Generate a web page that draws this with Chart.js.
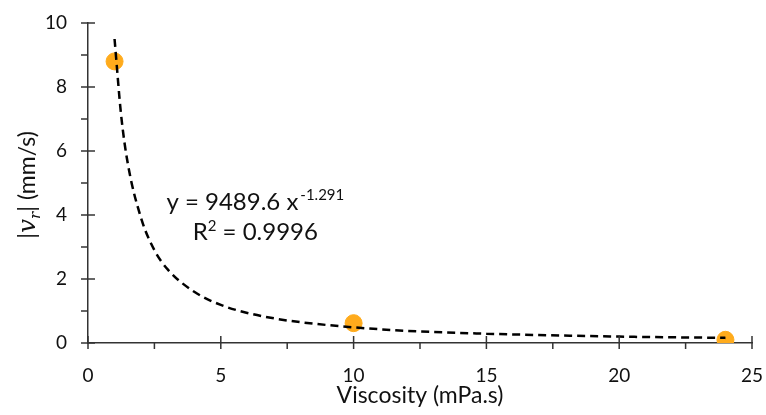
<!DOCTYPE html>
<html>
<head>
<meta charset="utf-8">
<script src="https://cdn.jsdelivr.net/npm/chart.js@4.4.1/dist/chart.umd.min.js"></script>
<style>
  body { margin: 0; background: #fff; }
</style>
</head>
<body>
<canvas id="viscChart" width="766" height="415"></canvas>
<script>
// measured points
var viscosity = [1, 10, 24];
var radialSpeed = [8.8, 0.62, 0.1];
// power-law trendline
var trendX = [1, 1.25, 1.5, 2, 2.5, 3, 4, 5, 6, 7, 8, 10, 12, 15, 20, 24];
var trendY = [9.5, 7.1, 5.6, 3.9, 2.9, 2.3, 1.6, 1.19, 0.94, 0.77, 0.65, 0.49, 0.38, 0.29, 0.2, 0.16];
var fitEquation = ['y = 9489.6 x', '-1.291'];
var fitR2 = ['R', '2', ' = 0.9996'];

var FONT = 'Lato, "Open Sans", sans-serif';
var INK = '#111';
var AXIS = '#333';

function toPoints(xs, ys) {
  return xs.map(function (v, i) { return { x: v, y: ys[i] }; });
}

// excel-like tick marks: major crossing the axis, minor outside
var axisTicks = {
  id: 'axisTicks',
  afterDraw: function (chart) {
    var ctx = chart.ctx, x = chart.scales.x, y = chart.scales.y;
    ctx.save();
    ctx.strokeStyle = AXIS;
    ctx.lineWidth = 1.5;
    x.ticks.forEach(function (t) {
      var px = x.getPixelForValue(t.value);
      var major = t.value % 5 === 0;
      ctx.beginPath();
      ctx.moveTo(px, y.bottom + 6);
      ctx.lineTo(px, major ? y.bottom - 7 : y.bottom);
      ctx.stroke();
    });
    y.ticks.forEach(function (t) {
      var py = y.getPixelForValue(t.value);
      var major = t.value % 2 === 0;
      ctx.beginPath();
      ctx.moveTo(x.left - 7, py);
      ctx.lineTo(major ? x.left + 7 : x.left, py);
      ctx.stroke();
    });
    ctx.restore();
  }
};

// y title with italic v and subscript r, plus fit equation text
var extraText = {
  id: 'extraText',
  afterDraw: function (chart) {
    var ctx = chart.ctx, x = chart.scales.x, y = chart.scales.y;
    ctx.save();
    ctx.fillStyle = INK;
    ctx.textBaseline = 'alphabetic';

    // y axis title
    var parts = [
      { t: '|', f: '23px ' + FONT, dy: 0 },
      { t: 'v', f: 'italic 25px "DejaVu Serif", serif', dy: 0 },
      { t: 'r', f: 'italic 15px "DejaVu Serif", serif', dy: 5 },
      { t: '| (mm/s)', f: '23px ' + FONT, dy: 0 }
    ];
    var total = 0;
    parts.forEach(function (p) { ctx.font = p.f; p.w = ctx.measureText(p.t).width; total += p.w; });
    ctx.translate(35, (y.top + y.bottom) / 2 + 2);
    ctx.rotate(-Math.PI / 2);
    var cx = -total / 2;
    parts.forEach(function (p) {
      ctx.font = p.f;
      ctx.fillText(p.t, cx, p.dy);
      cx += p.w;
    });
    ctx.setTransform(1, 0, 0, 1, 0, 0);

    // equation
    var ex = x.getPixelForValue(6.3);
    var ey1 = y.getPixelForValue(4.4) + 8;
    ctx.font = '24px ' + FONT;
    var w1 = ctx.measureText(fitEquation[0]).width;
    ctx.font = '15px ' + FONT;
    var w2 = ctx.measureText(fitEquation[1]).width;
    var sx = ex - (w1 + w2 + 2) / 2;
    ctx.font = '24px ' + FONT;
    ctx.fillText(fitEquation[0], sx, ey1);
    ctx.font = '15px ' + FONT;
    ctx.fillText(fitEquation[1], sx + w1 + 2, ey1 - 10);

    var ey2 = y.getPixelForValue(3.47) + 8;
    ctx.font = '24px ' + FONT;
    var a = ctx.measureText(fitR2[0]).width;
    var c = ctx.measureText(fitR2[2]).width;
    ctx.font = '15px ' + FONT;
    var b = ctx.measureText(fitR2[1]).width;
    sx = ex - (a + b + c) / 2;
    ctx.font = '24px ' + FONT;
    ctx.fillText(fitR2[0], sx, ey2);
    ctx.font = '15px ' + FONT;
    ctx.fillText(fitR2[1], sx + a, ey2 - 9);
    ctx.font = '24px ' + FONT;
    ctx.fillText(fitR2[2], sx + a + b, ey2);
    ctx.restore();
  }
};

var ctx = document.getElementById('viscChart');
var viscChart = new Chart(ctx, {
  type: 'scatter',
  data: {
    datasets: [{
      label: 'Power fit',
      data: toPoints(trendX, trendY),
      showLine: true,
      borderColor: '#000',
      borderWidth: 2.5,
      borderDash: [8, 5],
      cubicInterpolationMode: 'monotone',
      pointRadius: 0
    }, {
      label: '|vr|',
      data: toPoints(viscosity, radialSpeed),
      backgroundColor: '#FFAB1C',
      borderColor: '#FFAB1C',
      pointRadius: 8.5,
      pointHoverRadius: 8.5
    }]
  },
  options: {
    responsive: false,
    animation: false,
    layout: { padding: { top: 23, right: 14, left: 0, bottom: 0 } },
    scales: {
      x: {
        type: 'linear',
        min: 0,
        max: 25,
        afterFit: function (s) { s.height = 72; s.paddingLeft = 0; s.paddingRight = 0; },
        grid: { display: false },
        border: { display: true, color: AXIS, width: 1.5 },
        ticks: {
          stepSize: 2.5,
          autoSkip: false,
          maxRotation: 0,
          padding: 13,
          color: INK,
          font: { family: FONT, size: 19 },
          callback: function (v) { return v % 5 === 0 ? v : ''; }
        },
        title: {
          display: true,
          text: 'Viscosity (mPa.s)',
          color: INK,
          font: { family: FONT, size: 23 },
          padding: { top: 0, bottom: 6 }
        }
      },
      y: {
        min: 0,
        max: 10,
        afterFit: function (s) { s.width = 88; s.paddingTop = 0; s.paddingBottom = 0; },
        grid: { display: false },
        border: { display: true, color: AXIS, width: 1.5 },
        ticks: {
          stepSize: 1,
          autoSkip: false,
          padding: 13,
          color: INK,
          font: { family: FONT, size: 19 },
          callback: function (v) { return v % 2 === 0 ? v : ''; }
        }
      }
    },
    plugins: {
      legend: { display: false },
      tooltip: { enabled: false }
    }
  },
  plugins: [axisTicks, extraText]
});
</script>
</body>
</html>
